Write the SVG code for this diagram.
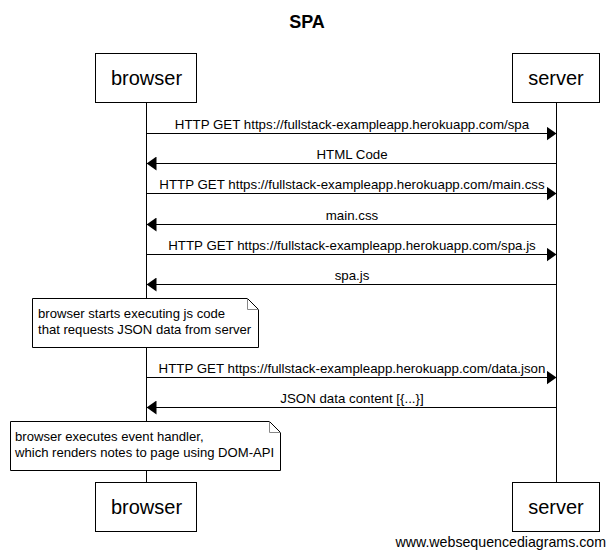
<svg xmlns="http://www.w3.org/2000/svg" width="614" height="556" viewBox="0 0 614 556">
<style>
text{font-family:"Liberation Sans",Arial,sans-serif;fill:#000}
.title{font-size:18px;font-weight:bold;text-anchor:middle}
.part{font-size:20px;text-anchor:middle}
.lbl{font-size:13.3px;text-anchor:middle}
.note{font-size:13.1px}
.box{fill:#fff;stroke:#000;stroke-width:1}
.life{stroke:#000;stroke-width:1}
.msg{stroke:#000;stroke-width:1;fill:none}
.fold{stroke:#888;stroke-width:1;fill:none}
.foot{font-size:14.2px;text-anchor:end}
</style>
<defs>
<marker id="ah" viewBox="0 0 10 14" refX="10" refY="7" markerWidth="10" markerHeight="14" markerUnits="userSpaceOnUse" orient="auto">
<path d="M0,0 L10,7 L0,14 z" fill="#000"/>
</marker>
</defs>
<rect width="614" height="556" fill="#fff"/>
<text class="title" x="307" y="28">SPA</text>
<g id="lifelines">
<line class="life" x1="146.5" y1="102" x2="146.5" y2="483"/>
<line class="life" x1="556.5" y1="102" x2="556.5" y2="483"/>
</g>
<g id="browser-top"><rect class="box" x="95.5" y="53.5" width="101" height="49"/><text class="part" x="146.5" y="85">browser</text></g>
<g id="server-top"><rect class="box" x="512.5" y="53.5" width="87" height="49"/><text class="part" x="556" y="85">server</text></g>
<g id="connectors">
<line class="msg" x1="146.5" y1="133.5" x2="556.5" y2="133.5" marker-end="url(#ah)"/>
<text class="lbl" x="352" y="128.5">HTTP GET https://fullstack-exampleapp.herokuapp.com/spa</text>
<line class="msg" x1="556.5" y1="163.5" x2="146.5" y2="163.5" marker-end="url(#ah)"/>
<text class="lbl" x="352" y="158.5">HTML Code</text>
<line class="msg" x1="146.5" y1="193.5" x2="556.5" y2="193.5" marker-end="url(#ah)"/>
<text class="lbl" x="352" y="188.5">HTTP GET https://fullstack-exampleapp.herokuapp.com/main.css</text>
<line class="msg" x1="556.5" y1="224.5" x2="146.5" y2="224.5" marker-end="url(#ah)"/>
<text class="lbl" x="352" y="219.5">main.css</text>
<line class="msg" x1="146.5" y1="254.5" x2="556.5" y2="254.5" marker-end="url(#ah)"/>
<text class="lbl" x="352" y="249.5">HTTP GET https://fullstack-exampleapp.herokuapp.com/spa.js</text>
<line class="msg" x1="556.5" y1="284.5" x2="146.5" y2="284.5" marker-end="url(#ah)"/>
<text class="lbl" x="352" y="279.5">spa.js</text>
<line class="msg" x1="146.5" y1="377.5" x2="556.5" y2="377.5" marker-end="url(#ah)"/>
<text class="lbl" x="352" y="372.5">HTTP GET https://fullstack-exampleapp.herokuapp.com/data.json</text>
<line class="msg" x1="556.5" y1="407.5" x2="146.5" y2="407.5" marker-end="url(#ah)"/>
<text class="lbl" x="352" y="402.5">JSON data content [{...}]</text>
</g>
<g id="note1">
<path class="box" d="M32.5,298.5 H247.5 L258.5,309.5 V347.5 H32.5 Z"/>
<path class="fold" d="M247.5,298.5 V309.5 H258.5"/>
<text class="note" x="38" y="318">browser starts executing js code</text>
<text class="note" x="38" y="334">that requests JSON data from server</text>
</g>
<g id="note2">
<path class="box" d="M10.5,421.5 H269.5 L280.5,432.5 V470.5 H10.5 Z"/>
<path class="fold" d="M269.5,421.5 V432.5 H280.5"/>
<text class="note" x="15" y="441">browser executes event handler,</text>
<text class="note" x="15" y="457">which renders notes to page using DOM-API</text>
</g>
<g id="browser-bottom"><rect class="box" x="95.5" y="482.5" width="101" height="49"/><text class="part" x="146.5" y="514">browser</text></g>
<g id="server-bottom"><rect class="box" x="512.5" y="482.5" width="87" height="49"/><text class="part" x="556" y="514">server</text></g>
<text class="foot" x="606" y="547">www.websequencediagrams.com</text>
</svg>
